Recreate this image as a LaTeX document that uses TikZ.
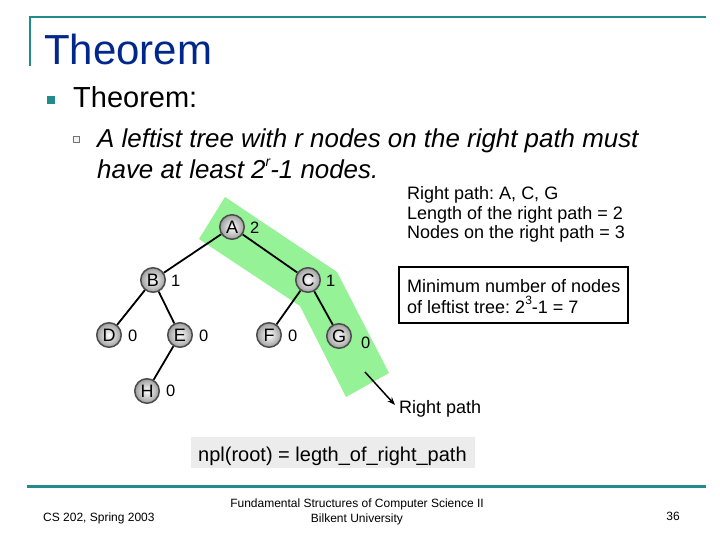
\documentclass[tikz,border=0pt]{standalone}
\usepackage{fontspec}
\setmainfont{Liberation Sans}
\usetikzlibrary{arrows.meta}
\definecolor{teal1}{RGB}{34,140,140}
\definecolor{titleblue}{RGB}{0,40,140}
\definecolor{bandgreen}{RGB}{150,242,150}
\definecolor{nplgray}{RGB}{236,236,236}
\newcommand{\smallsup}[2]{\raisebox{0.5em}{\fontsize{#1}{#1}\selectfont #2}}
\frenchspacing
\begin{document}
\begin{tikzpicture}[x=1pt,y=-1pt,
  treenode/.style={circle,draw=black!70,line width=1.5pt,minimum size=24.5pt,inner sep=0pt,
    inner color=white,outer color=black!38,font=\fontsize{18}{18}\selectfont},
  nlabel/.style={anchor=west,inner sep=0pt,font=\fontsize{16.5}{16.5}\selectfont},
  edge/.style={line width=1.8pt,black},
  bodytext/.style={anchor=base west,inner sep=0pt,font=\fontsize{18}{18}\selectfont},
  foot/.style={inner sep=0pt,font=\fontsize{12}{12}\selectfont}]
\useasboundingbox (0,0) rectangle (720,540);
\fill[white] (0,0) rectangle (720,540);
% title decoration
\draw[teal1,line width=2.5pt] (30,66) -- (30,17) -- (706,17);
\node[anchor=base west,inner sep=0pt,text=titleblue,font=\fontsize{42}{42}\selectfont] (title) at (44,65) {Theorem};
% bullets
\fill[teal1] (47,96) rectangle (55,104);
\node[anchor=base west,inner sep=0pt,font=\fontsize{29}{29}\selectfont] (thm) at (73,108) {Theorem:};
\draw[black!55,fill=black!5,line width=0.8pt] (73.5,136.5) rectangle (79.5,142.5);
\node[anchor=base west,inner sep=0pt,font=\fontsize{25.9}{25.9}\selectfont\itshape] (l1) at (97,148) {A leftist tree with r nodes on the right path must};
\node[anchor=base west,inner sep=0pt,font=\fontsize{25.9}{25.9}\selectfont\itshape] (l2) at (97,179) {have at least 2\smallsup{14}{r}-1 nodes.};
% green band
\fill[bandgreen] (225,197) -- (337,272) -- (389,373) -- (346,397) -- (300,306) -- (199,239) -- cycle;
% tree
\node[treenode] (A) at (232,227) {A};
\node[treenode] (B) at (153,280) {B};
\node[treenode] (C) at (308,280) {C};
\node[treenode] (D) at (109,335) {D};
\node[treenode] (E) at (180,335) {E};
\node[treenode] (F) at (269,335) {F};
\node[treenode] (G) at (339,336) {G};
\node[treenode] (H) at (147,391) {H};
\draw[edge] (A) -- (B);
\draw[edge] (A) -- (C);
\draw[edge] (B) -- (D);
\draw[edge] (B) -- (E);
\draw[edge] (C) -- (F);
\draw[edge] (C) -- (G);
\draw[edge] (E) -- (H);
\node[nlabel] (la) at (250,228) {2};
\node[nlabel] (lb) at (171,281) {1};
\node[nlabel] (lc) at (326,281) {1};
\node[nlabel] (ld) at (128,336) {0};
\node[nlabel] (le) at (199,336) {0};
\node[nlabel] (lf) at (288,336) {0};
\node[nlabel] (lg) at (361,343) {0};
\node[nlabel] (lh) at (166,391) {0};
% right side texts
\node[bodytext] (r1) at (407,200) {Right path: A, C, G};
\node[bodytext] (r2) at (407,219) {Length of the right path = 2};
\node[bodytext] (r3) at (407,239) {Nodes on the right path = 3};
\draw[black,line width=1.5pt] (399,267) rectangle (628,323);
\node[bodytext] (m1) at (407,292) {Minimum number of nodes};
\node[bodytext] (m2) at (407,313) {of leftist tree: 2\smallsup{12}{3}-1 = 7};
% arrow
\coordinate (as) at (365,372);
\coordinate (ae) at (395,405);
\draw[line width=1.5pt,-{Stealth[length=8pt,width=6pt]}] (as) -- (ae);
\node[bodytext] (rp) at (399,413) {Right path};
% npl box
\fill[nplgray] (191,437) rectangle (475,468);
\node[bodytext,font=\fontsize{20}{20}\selectfont] (npl) at (198,461) {npl(root) = legth\_of\_right\_path};
% footer
\draw[teal1,line width=3pt] (27,486) -- (706,486);
\node[foot,anchor=base west] (f1) at (43,521) {CS 202, Spring 2003};
\node[foot,anchor=base] (f2) at (357,507) {Fundamental Structures of Computer Science II};
\node[foot,anchor=base] (f3) at (357,522) {Bilkent University};
\node[foot,anchor=base east] (f4) at (680,520) {36};
\end{tikzpicture}
\end{document}
